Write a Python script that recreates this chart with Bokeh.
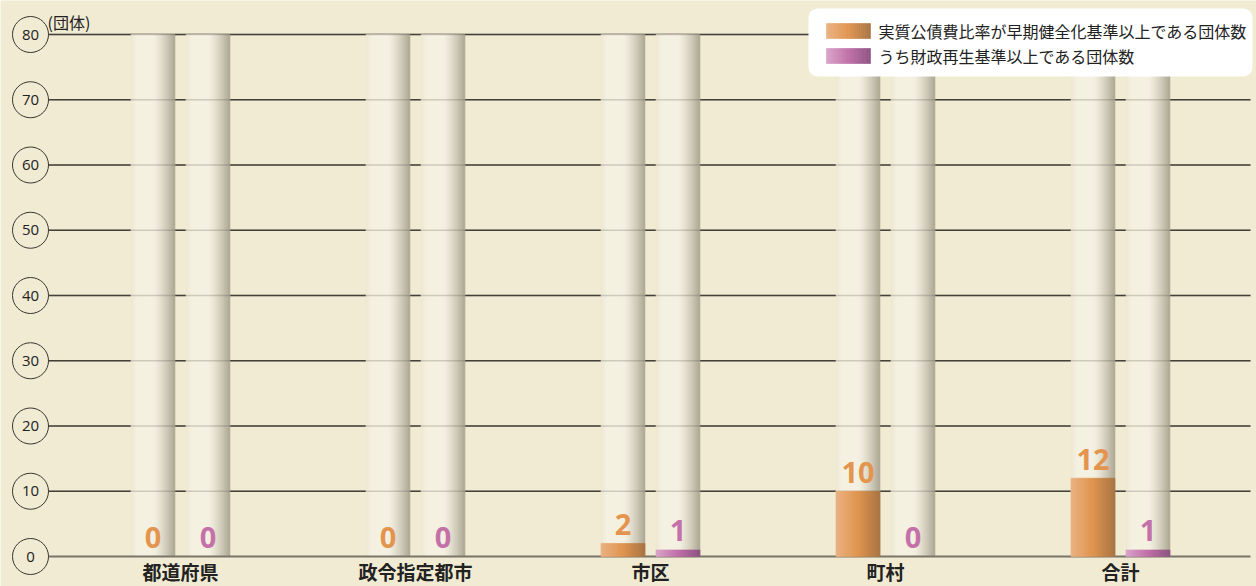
from bokeh.plotting import figure
from bokeh.models import Range1d, ColumnDataSource, Quad
from bokeh.core.properties import value
from bokeh.embed import file_html
from bokeh.resources import INLINE

# ---- data ----
categories = ["都道府県", "政令指定都市", "市区", "町村", "合計"]
early_counts = [0, 0, 2, 10, 12]      # 実質公債費比率が早期健全化基準以上である団体数
rebuild_counts = [0, 0, 1, 0, 1]      # うち財政再生基準以上である団体数
y_ticks = [0, 10, 20, 30, 40, 50, 60, 70, 80]
series_labels = ["実質公債費比率が早期健全化基準以上である団体数",
                 "うち財政再生基準以上である団体数"]

Y_MAX = 80
JP = value("Noto Sans CJK JP")
BG = "#f1ebd3"

W, H = 1256, 586
PX_PER_GROUP = 235.0
X0 = 62.5  # pixel position of the first group's left edge
x_start = (0 - X0) / PX_PER_GROUP
x_end = (W - X0) / PX_PER_GROUP
PX_PER_Y = 522.0 / Y_MAX
y_start = -(H - 556) / PX_PER_Y
y_end = 556 / PX_PER_Y


def sx(px):
    """screen x (px) -> data x"""
    return (px - X0) / PX_PER_GROUP


def sy(py):
    """screen y (px from top) -> data y"""
    return (556 - py) / PX_PER_Y


p = figure(width=W, height=H, output_backend="svg", toolbar_location=None,
           x_range=Range1d(x_start, x_end), y_range=Range1d(y_start, y_end),
           min_border=0, min_border_left=0, min_border_right=0,
           min_border_top=0, min_border_bottom=0)
p.axis.visible = False
p.grid.visible = False
p.outline_line_color = None
p.background_fill_color = BG
p.border_fill_color = BG

centers = [i + 0.5 for i in range(len(categories))]
bar_w = 44 / PX_PER_GROUP
offset = 27.5 / PX_PER_GROUP
line_left = sx(48)
line_right = sx(1250)
circle_x = sx(30)

# horizontal rules
rule_y = [t for t in y_ticks if t > 0]
p.segment(x0=[line_left] * len(rule_y), x1=[line_right] * len(rule_y),
          y0=rule_y, y1=rule_y, line_color="#45403a", line_width=1.3)


def mix(c1, c2, t):
    a = [int(c1[i:i + 2], 16) for i in (1, 3, 5)]
    b = [int(c2[i:i + 2], 16) for i in (1, 3, 5)]
    return "#%02x%02x%02x" % tuple(round(a[k] + (b[k] - a[k]) * t) for k in range(3))


N = 22


def column_color(t):
    if t < 0.15:
        return mix("#eee8d3", "#f5f1e2", t / 0.15)
    if t < 0.5:
        return "#f5f1e2"
    return mix("#f5f1e2", "#aca793", ((t - 0.5) / 0.5) ** 1.4)


def orange_color(t):
    if t < 0.5:
        return mix("#ebb283", "#e0954f", t / 0.5)
    return mix("#e0954f", "#a87545", (t - 0.5) / 0.5)


def purple_color(t):
    if t < 0.5:
        return mix("#d9a5ca", "#c170a9", t / 0.5)
    return mix("#c170a9", "#8d5482", (t - 0.5) / 0.5)


def strips(xc, top, color_fn, width=bar_w, bottom=None):
    """Split each bar into narrow vertical strips to shade it horizontally."""
    l, r, b, tp, c = [], [], [], [], []
    for i, (xi, v) in enumerate(zip(xc, top)):
        b0 = 0 if bottom is None else bottom[i]
        if v <= b0:
            continue
        for k in range(N):
            t = (k + 0.5) / N
            l.append(xi - width / 2 + width * k / N)
            r.append(xi - width / 2 + width * (k + 1) / N)
            b.append(b0)
            tp.append(v)
            c.append(color_fn(t))
    return ColumnDataSource(dict(left=l, right=r, bottom=b, top=tp, color=c))


def shaded(src):
    return p.quad(left="left", right="right", bottom="bottom", top="top", source=src,
                  fill_color="color", line_color="color", line_width=0.6)


x_early = [c - offset for c in centers]
x_rebuild = [c + offset for c in centers]

# cylinder-like background columns
for xs in (x_early, x_rebuild):
    shaded(strips(xs, [Y_MAX] * len(xs), column_color))

# rules showing faintly through the columns
p.segment(x0=[line_left] * len(rule_y), x1=[line_right] * len(rule_y),
          y0=rule_y, y1=rule_y, line_color="#45403a", line_width=1.3, line_alpha=0.22)

# baseline
p.segment(x0=[line_left], x1=[line_right], y0=[0], y1=[0],
          line_color="#7a756b", line_width=2)

shaded(strips(x_early, early_counts, orange_color))
shaded(strips(x_rebuild, rebuild_counts, purple_color))

# value labels
p.text(x=x_early, y=early_counts, text=[str(v) for v in early_counts],
       text_font=value("Open Sans"), text_font_style="bold", text_font_size="29px",
       text_color="#e3954f", text_align="center", text_baseline="alphabetic", y_offset=-19)
p.text(x=x_rebuild, y=rebuild_counts, text=[str(v) for v in rebuild_counts],
       text_font=value("Open Sans"), text_font_style="bold", text_font_size="29px",
       text_color="#c471aa", text_align="center", text_baseline="alphabetic", y_offset=-19)

# category labels
p.text(x=centers, y=[0] * len(centers), text=categories, text_font=JP,
       text_font_style="bold", text_font_size="19px", text_color="#222222",
       text_align="center", text_baseline="middle", y_offset=15)

# circled y tick labels
p.scatter(x=[circle_x] * len(y_ticks), y=y_ticks, marker="circle", size=36,
          fill_color=None, line_color="#3a3530", line_width=1)
p.text(x=[circle_x] * len(y_ticks), y=y_ticks, text=[str(t) for t in y_ticks],
       text_font=value("Open Sans"), text_font_size="15px", text_color="#222222",
       text_align="center", text_baseline="middle")
p.text(x=[line_left], y=[Y_MAX], text=["(団体)"], text_font=JP,
       text_font_size="16px", text_color="#222222", text_align="left",
       text_baseline="bottom", y_offset=-1, x_offset=-1)

# legend panel with shaded swatches
box_kw = dict(left=[sx(808)], right=[sx(1252)], top=[sy(8)], bottom=[sy(76)],
              fill_color="white", line_color=None)
if "border_radius" in Quad.properties():
    box_kw["border_radius"] = 9
p.quad(**box_kw)

row_py = [30, 55]
sw_x = [sx(848)] * 2
shaded(strips(sw_x[:1], [sy(row_py[0] - 7)], orange_color,
              width=44 / PX_PER_GROUP, bottom=[sy(row_py[0] + 8)]))
shaded(strips(sw_x[1:], [sy(row_py[1] - 7)], purple_color,
              width=44 / PX_PER_GROUP, bottom=[sy(row_py[1] + 8)]))
p.text(x=[sx(878)] * 2, y=[sy(py) for py in row_py], text=series_labels, text_font=JP,
       text_font_size="16px", text_color="#222222", text_align="left",
       text_baseline="middle")

open("out.html", "w").write(file_html(p, INLINE))
